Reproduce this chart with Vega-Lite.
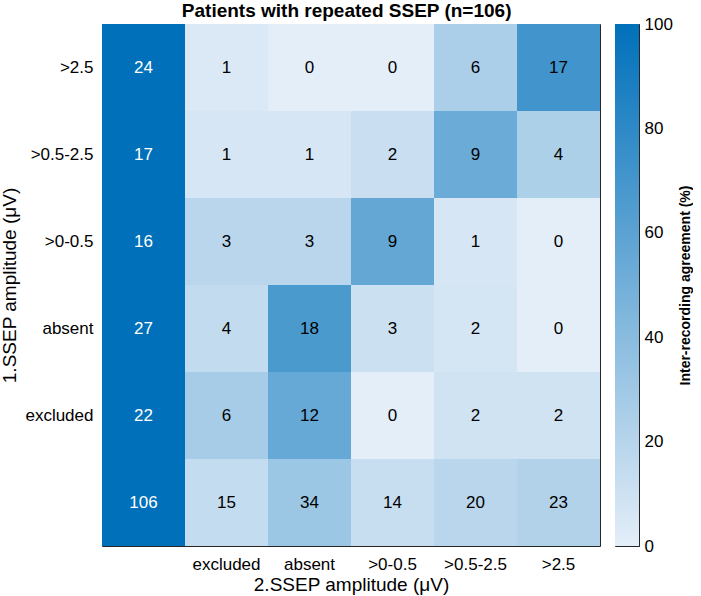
{
  "$schema": "https://vega.github.io/schema/vega-lite/v6.json",
  "padding": {"left": 0, "top": 1, "right": 0, "bottom": 3},
  "background": "white",
  "spacing": 13,
  "config": {
    "font": "Liberation Sans",
    "view": {"stroke": "#262626", "strokeWidth": 1}
  },
  "title": {
    "text": "Patients with repeated SSEP (n=106)",
    "fontSize": 19,
    "fontWeight": "bold",
    "color": "black",
    "anchor": "middle",
    "offset": -6
  },
  "hconcat": [
    {
      "width": 498,
      "height": 522,
      "data": {
        "values": [
          {"row": ">2.5", "col": "Total", "n": 24, "pct": 100},
          {"row": ">2.5", "col": "excluded", "n": 1, "pct": 4},
          {"row": ">2.5", "col": "absent", "n": 0, "pct": 0},
          {"row": ">2.5", "col": ">0-0.5", "n": 0, "pct": 0},
          {"row": ">2.5", "col": ">0.5-2.5", "n": 6, "pct": 25},
          {"row": ">2.5", "col": ">2.5", "n": 17, "pct": 71},
          {"row": ">0.5-2.5", "col": "Total", "n": 17, "pct": 100},
          {"row": ">0.5-2.5", "col": "excluded", "n": 1, "pct": 6},
          {"row": ">0.5-2.5", "col": "absent", "n": 1, "pct": 6},
          {"row": ">0.5-2.5", "col": ">0-0.5", "n": 2, "pct": 12},
          {"row": ">0.5-2.5", "col": ">0.5-2.5", "n": 9, "pct": 53},
          {"row": ">0.5-2.5", "col": ">2.5", "n": 4, "pct": 24},
          {"row": ">0-0.5", "col": "Total", "n": 16, "pct": 100},
          {"row": ">0-0.5", "col": "excluded", "n": 3, "pct": 19},
          {"row": ">0-0.5", "col": "absent", "n": 3, "pct": 19},
          {"row": ">0-0.5", "col": ">0-0.5", "n": 9, "pct": 56},
          {"row": ">0-0.5", "col": ">0.5-2.5", "n": 1, "pct": 6},
          {"row": ">0-0.5", "col": ">2.5", "n": 0, "pct": 0},
          {"row": "absent", "col": "Total", "n": 27, "pct": 100},
          {"row": "absent", "col": "excluded", "n": 4, "pct": 15},
          {"row": "absent", "col": "absent", "n": 18, "pct": 67},
          {"row": "absent", "col": ">0-0.5", "n": 3, "pct": 11},
          {"row": "absent", "col": ">0.5-2.5", "n": 2, "pct": 7},
          {"row": "absent", "col": ">2.5", "n": 0, "pct": 0},
          {"row": "excluded", "col": "Total", "n": 22, "pct": 100},
          {"row": "excluded", "col": "excluded", "n": 6, "pct": 27},
          {"row": "excluded", "col": "absent", "n": 12, "pct": 55},
          {"row": "excluded", "col": ">0-0.5", "n": 0, "pct": 0},
          {"row": "excluded", "col": ">0.5-2.5", "n": 2, "pct": 9},
          {"row": "excluded", "col": ">2.5", "n": 2, "pct": 9},
          {"row": "Total", "col": "Total", "n": 106, "pct": 100},
          {"row": "Total", "col": "excluded", "n": 15, "pct": 14},
          {"row": "Total", "col": "absent", "n": 34, "pct": 32},
          {"row": "Total", "col": ">0-0.5", "n": 14, "pct": 13},
          {"row": "Total", "col": ">0.5-2.5", "n": 20, "pct": 19},
          {"row": "Total", "col": ">2.5", "n": 23, "pct": 22}
        ]
      },
      "encoding": {
        "x": {
          "field": "col",
          "type": "nominal",
          "sort": ["Total", "excluded", "absent", ">0-0.5", ">0.5-2.5", ">2.5"],
          "title": "2.SSEP amplitude (μV)",
          "axis": {
            "labelAngle": 0,
            "labelExpr": "datum.value == 'Total' ? '' : datum.label",
            "ticks": false,
            "domain": false,
            "labelFontSize": 17,
            "labelColor": "black",
            "labelPadding": 10,
            "titleFontSize": 19,
            "titleFontWeight": "normal",
            "titleColor": "black",
            "titlePadding": 3
          }
        },
        "y": {
          "field": "row",
          "type": "nominal",
          "sort": [">2.5", ">0.5-2.5", ">0-0.5", "absent", "excluded", "Total"],
          "title": "1.SSEP amplitude (μV)",
          "axis": {
            "labelExpr": "datum.value == 'Total' ? '' : datum.label",
            "ticks": false,
            "domain": false,
            "labelFontSize": 17,
            "labelColor": "black",
            "labelPadding": 9,
            "titleFontSize": 19,
            "titleFontWeight": "normal",
            "titleColor": "black",
            "titlePadding": 5
          }
        }
      },
      "layer": [
        {
          "mark": {"type": "rect"},
          "encoding": {
            "color": {
              "field": "pct",
              "type": "quantitative",
              "scale": {"domain": [0, 100], "range": ["#e4eef8", "#0070ba"], "interpolate": "rgb"},
              "legend": null
            }
          }
        },
        {
          "mark": {"type": "text", "fontSize": 17},
          "encoding": {
            "text": {"field": "n", "type": "quantitative"},
            "color": {
              "condition": {"test": "datum.col == 'Total'", "value": "white"},
              "value": "black"
            }
          }
        }
      ]
    },
    {
      "width": 24,
      "height": 522,
      "data": {"values": [{"lo": 0, "hi": 100}]},
      "mark": {
        "type": "rect",
        "color": {
          "gradient": "linear",
          "x1": 0, "y1": 1, "x2": 0, "y2": 0,
          "stops": [
            {"offset": 0, "color": "#e4eef8"},
            {"offset": 1, "color": "#0070ba"}
          ]
        }
      },
      "encoding": {
        "y": {
          "field": "lo",
          "type": "quantitative",
          "scale": {"domain": [0, 100], "nice": false, "zero": true},
          "title": "Inter-recording agreement (%)",
          "axis": {
            "orient": "right",
            "values": [0, 10, 20, 30, 40, 50, 60, 70, 80, 90, 100],
            "labelExpr": "datum.value % 20 == 0 ? datum.label : ''",
            "grid": false,
            "domain": false,
            "tickSize": -5,
            "tickColor": "#262626",
            "labelPadding": 10,
            "labelFontSize": 17,
            "labelColor": "black",
            "labelBound": false,
            "labelFlush": false,
            "titleFontSize": 14,
            "titleFontWeight": "bold",
            "titleColor": "black",
            "titleAngle": 270,
            "titlePadding": 20
          }
        },
        "y2": {"field": "hi"}
      }
    }
  ]
}
